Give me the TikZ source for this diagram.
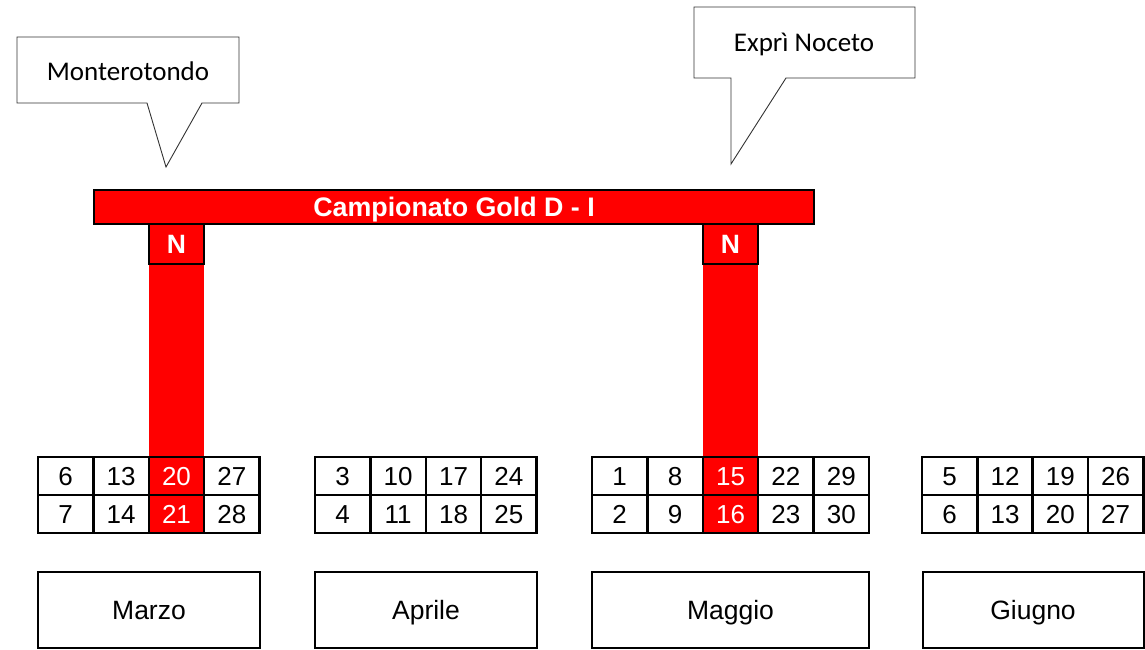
\documentclass[tikz,border=0pt]{standalone}
\usepackage{fontspec}
\setmainfont{Liberation Sans}
\newfontfamily\calibrifont{Carlito}
\begin{document}
\begin{tikzpicture}[x=1pt,y=-1pt,
  cell/.style={draw=black, line width=2.5pt, outer sep=0pt, inner sep=0pt,
    minimum width=55.4pt, minimum height=38pt, anchor=north west,
    text height=18.7pt, text depth=0pt,
    font=\fontsize{26}{30}\selectfont},
  hot/.style={cell, fill=red, text=white},
  monthbox/.style={draw=black, line width=2pt, outer sep=0pt, inner sep=0pt,
    minimum height=76pt, anchor=north west, text height=19pt, text depth=0pt,
    font=\fontsize{26.5}{30}\selectfont},
  nbox/.style={draw=black, line width=2.5pt, fill=red, text=white, outer sep=0pt,
    inner sep=0pt, minimum width=55.4pt, minimum height=40pt, anchor=north west,
    text height=19pt, text depth=0pt,
    font=\fontsize{26.5}{30}\selectfont\bfseries},
  bubble/.style={draw=black!80, line width=0.9pt, fill=white},
  bubbletext/.style={font=\calibrifont\fontsize{27}{30}\selectfont, inner sep=0pt}
]
\useasboundingbox (0,0) rectangle (1145,650);

% callouts
\draw[bubble] (17,37) -- (239,37) -- (239,103) -- (202,103) -- (166,167)
  -- (147,103) -- (17,103) -- cycle;
\node[bubbletext] (c1) at (128,71) {Monterotondo};
\draw[bubble] (694,7) -- (915,7) -- (915,78) -- (786,78) -- (731,164)
  -- (731,78) -- (694,78) -- cycle;
\node[bubbletext] (c2) at (804,44) {Exprì Noceto};

% red columns
\fill[red] (148.8,262) rectangle (204.2,458);
\fill[red] (702.8,262) rectangle (758.2,458);

% header
\node[draw=black, line width=2.5pt, fill=red, text=white, outer sep=0pt, inner sep=0pt,
  minimum width=720pt, minimum height=34pt, anchor=north west,
  text height=19pt, text depth=0pt,
  font=\fontsize{26.8}{30}\selectfont\bfseries] (hdr) at (94,190) {Campionato Gold D - I};
\node[nbox] (n1) at (148.8,224) {N};
\node[nbox] (n2) at (702.8,224) {N};

% Marzo
\foreach \a/\b/\s [count=\i from 0] in {6/7/cell,13/14/cell,20/21/hot,27/28/cell} {
  \node[\s] (mar-\i-1) at (38+\i*55.4,457) {\a};
  \node[\s] (mar-\i-2) at (38+\i*55.4,495) {\b};
}
% Aprile
\foreach \a/\b/\s [count=\i from 0] in {3/4/cell,10/11/cell,17/18/cell,24/25/cell} {
  \node[\s] (apr-\i-1) at (315+\i*55.4,457) {\a};
  \node[\s] (apr-\i-2) at (315+\i*55.4,495) {\b};
}
% Maggio
\foreach \a/\b/\s [count=\i from 0] in {1/2/cell,8/9/cell,15/16/hot,22/23/cell,29/30/cell} {
  \node[\s] (mag-\i-1) at (592+\i*55.4,457) {\a};
  \node[\s] (mag-\i-2) at (592+\i*55.4,495) {\b};
}
% Giugno
\foreach \a/\b/\s [count=\i from 0] in {5/6/cell,12/13/cell,19/20/cell,26/27/cell} {
  \node[\s] (giu-\i-1) at (922+\i*55.3,457) {\a};
  \node[\s] (giu-\i-2) at (922+\i*55.3,495) {\b};
}

% months
\node[monthbox, minimum width=222pt] (marzo) at (38,572) {Marzo};
\node[monthbox, minimum width=222pt] (aprile) at (315,572) {Aprile};
\node[monthbox, minimum width=277pt] (maggio) at (592,572) {Maggio};
\node[monthbox, minimum width=221pt] (giugno) at (922.5,572) {Giugno};
\end{tikzpicture}
\end{document}
